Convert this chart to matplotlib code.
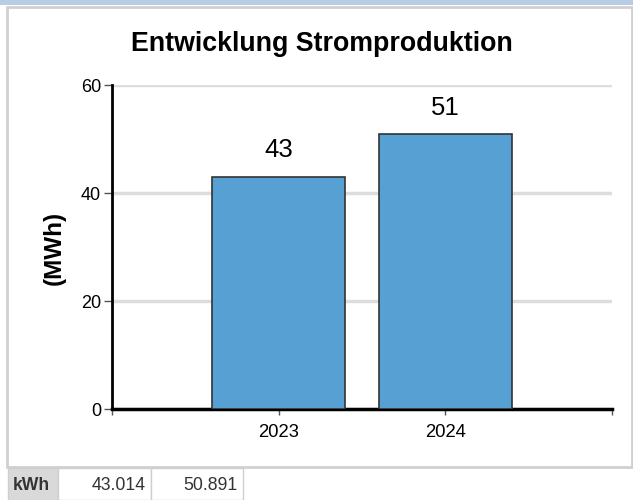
import matplotlib
matplotlib.use("Agg")
import matplotlib.pyplot as plt
from matplotlib.patches import Rectangle

categories = ["2023", "2024"]
values_kwh = [43.014, 50.891]
value_labels = ["43", "51"]
table_header = "kWh"
table_values = ["43.014", "50.891"]
title = "Entwicklung Stromproduktion"
ylabel = "(MWh)"
yticks = [0, 20, 40, 60]

plt.rcParams['font.family'] = ['Liberation Sans', 'DejaVu Sans']

W, H = 633, 500
fig = plt.figure(figsize=(W / 100, H / 100), dpi=100)

def fx(px):
    return px / W

def fy(py):
    return 1 - py / H

# top band
fig.patches.append(Rectangle((0, fy(5)), 1, 5 / H, transform=fig.transFigure,
                             facecolor="#b8cce4", edgecolor="none", zorder=0))
# box border
fig.patches.append(Rectangle((fx(7.5), fy(467)), fx(632) - fx(7.5), (467 - 7) / H,
                             transform=fig.transFigure, facecolor="none",
                             edgecolor="#d0d0d0", linewidth=2, zorder=0))

ax = fig.add_axes([fx(112), fy(409), fx(612) - fx(112), (409 - 85) / H])
ax.set_zorder(2)
x = list(range(len(categories)))
ax.bar(x, values_kwh, width=0.8, color="#56a0d3", edgecolor="#333333",
       linewidth=1.2, zorder=3)
ax.set_xlim(-1, 2)
ax.set_ylim(0, 60)
ax.set_yticks(yticks)
ax.set_yticklabels([str(v) for v in yticks], fontsize=13)
ax.set_xticks([-1, 0, 1, 2])
ax.set_xticklabels(["", categories[0], categories[1], ""], fontsize=13.3)
ax.tick_params(axis="y", length=6, width=1, color="#555555", pad=2)
ax.tick_params(axis="x", length=4, width=1, color="#555555", pad=7)
ax.grid(axis="y", color="#dddddd", linewidth=2.5, zorder=0)
for s in ["top", "right"]:
    ax.spines[s].set_visible(False)
ax.spines["left"].set_linewidth(2)
ax.spines["bottom"].set_linewidth(2.5)
ax.set_axisbelow(True)

for xi, v, lab in zip(x, values_kwh, value_labels):
    ax.annotate(lab, (xi, v), xytext=(0, 14), textcoords="offset points",
                ha="center", va="baseline", fontsize=18.5)

fig.text(fx(322), fy(51), title, ha="center", va="baseline", fontsize=19.3,
         fontweight="bold")
fig.text(fx(54), fy(248), ylabel, ha="center", va="center", rotation=90,
         fontsize=17.5, fontweight="bold")

# table row
row_top, row_bot = 468, 500
cells = [(8, 58), (58, 151), (151, 243)]
fig.patches.append(Rectangle((fx(8), fy(row_bot)), fx(58) - fx(8), (row_bot - row_top) / H,
                             transform=fig.transFigure, facecolor="#d9d9d9",
                             edgecolor="#cfcfcf", linewidth=1, zorder=0))
for (a, b) in cells[1:]:
    fig.patches.append(Rectangle((fx(a), fy(row_bot)), fx(b) - fx(a), (row_bot - row_top) / H,
                                 transform=fig.transFigure, facecolor="white",
                                 edgecolor="#cfcfcf", linewidth=1, zorder=0))
fig.text(fx(13), fy(486), table_header, ha="left", va="center", fontsize=12.7,
         fontweight="bold", color="#333333")
for (a, b), t in zip(cells[1:], table_values):
    fig.text(fx(b - 5), fy(486), t, ha="right", va="center", fontsize=12.7,
             color="#333333")

fig.savefig("out.png", dpi=100)
